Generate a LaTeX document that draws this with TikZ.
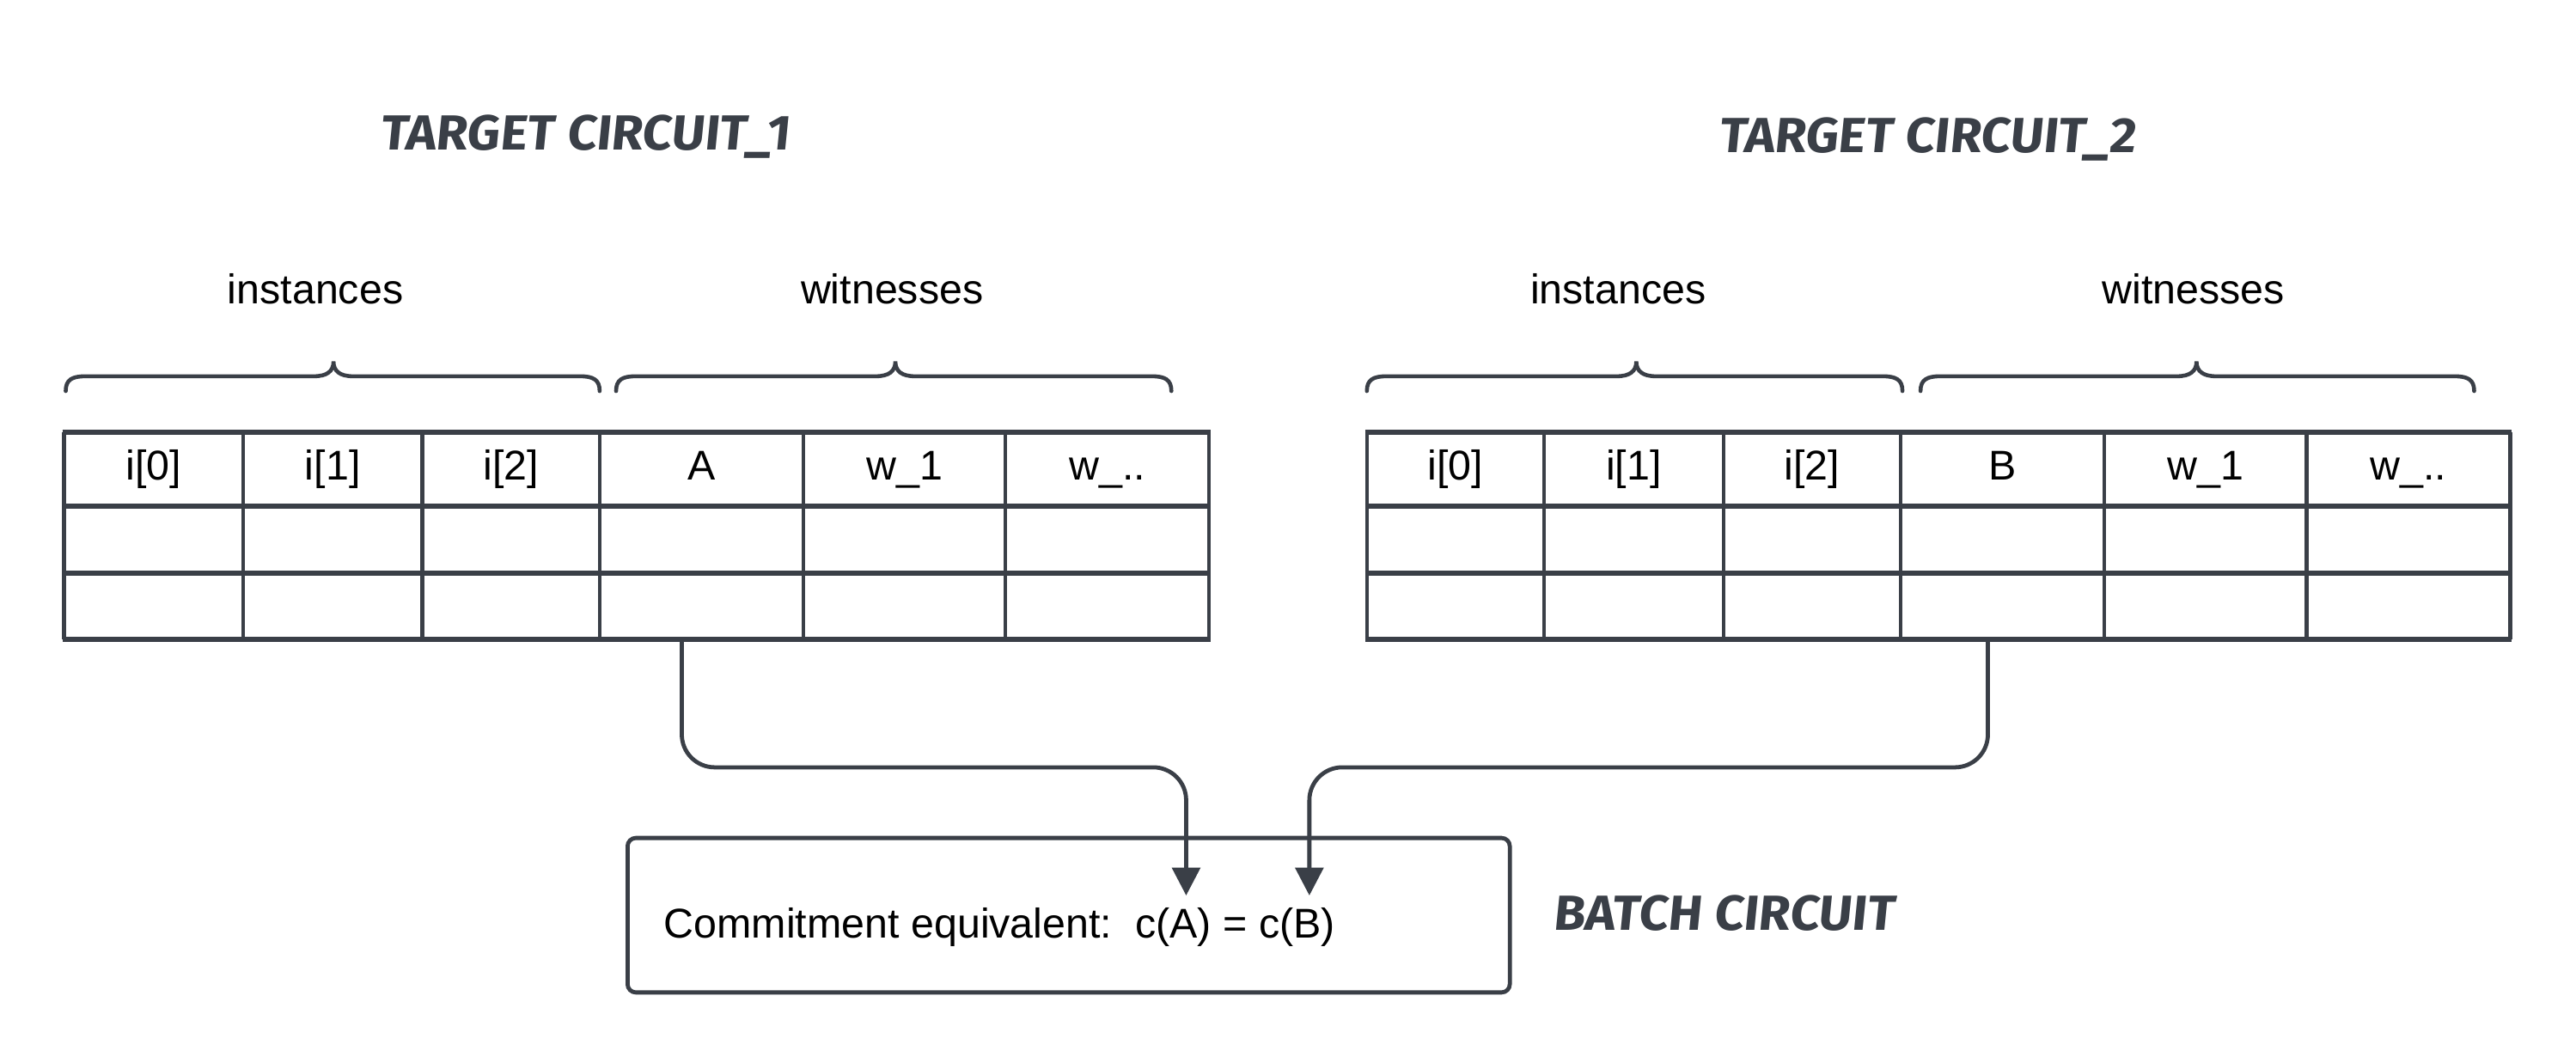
\documentclass[tikz,border=0pt]{standalone}
\usepackage{fontspec}
\setmainfont{Liberation Sans}
\newfontfamily\handfont{Fira Sans}[FakeSlant=0.1,FakeStretch=1.04]
\usetikzlibrary{arrows.meta}
\definecolor{ln}{HTML}{3A3F47}
\begin{document}
\begin{tikzpicture}[x=1pt,y=-1pt,
  hline/.style={draw=ln,line width=3pt},
  vline/.style={draw=ln,line width=2.3pt},
  brace/.style={draw=ln,line width=2.4pt,line cap=round},
  lbl/.style={font=\fontsize{25.3}{28}\selectfont,text=black,inner sep=0pt},
  cell/.style={font=\fontsize{25.3}{28}\selectfont,text=black,inner sep=0pt,anchor=base},
  title/.style={font=\handfont\bfseries\fontsize{30}{34}\selectfont,text=ln,inner sep=0pt},
  conn/.style={draw=ln,line width=2.5pt,rounded corners=20pt,-{Triangle[length=17pt,width=17pt]}},
  box/.style={draw=ln,line width=2.5pt,rounded corners=5pt}]
\useasboundingbox (0,0) rectangle (1568,643.3);
\fill[white] (0,0) rectangle (1568,643.3);

% titles
\node[title] (t1) at (356,83) {TARGET CIRCUIT\_1};
\node[title] (t2) at (1173,85) {TARGET CIRCUIT\_2};
\node[title] (t3) at (1049,556) {BATCH CIRCUIT};

% labels
\node[lbl] (inst1) at (192,176) {instances};
\node[lbl] (wit1) at (543,176) {witnesses};
\node[lbl] (inst2) at (985,176) {instances};
\node[lbl] (wit2) at (1335,176) {witnesses};

% braces
\foreach \a/\m/\b in {40/203/365, 375/545/713, 832/996/1158, 1169/1337/1506}{
  \draw[brace] (\a,238) .. controls (\a,231) and (\a+4,229) .. (\a+12,229)
    -- (\m-12,229) .. controls (\m-4,229) and (\m,226) .. (\m,220)
    .. controls (\m,226) and (\m+4,229) .. (\m+12,229)
    -- (\b-12,229) .. controls (\b-4,229) and (\b,231) .. (\b,238);
}

% table 1
\foreach \x in {39,148,257,365,489,612,736}{\draw[vline] (\x,263) -- (\x,389);}
\foreach \y in {263,308,349,389}{\draw[hline] (38,\y) -- (737,\y);}
% table 2
\foreach \x in {832,940,1049,1157,1281,1404,1528}{\draw[vline] (\x,263) -- (\x,389);}
\foreach \y in {263,308,349,389}{\draw[hline] (831,\y) -- (1529,\y);}

% cell texts
\node[cell] (c10) at (93.5,292) {i[0]};
\node[cell] (c11) at (202.5,292) {i[1]};
\node[cell] (c12) at (311,292) {i[2]};
\node[cell] (c13) at (427,292) {A};
\node[cell] (c14) at (550.5,292) {w\_1};
\node[cell] (c15) at (674,292) {w\_..};
\node[cell] (c20) at (886,292) {i[0]};
\node[cell] (c21) at (994.5,292) {i[1]};
\node[cell] (c22) at (1103,292) {i[2]};
\node[cell] (c23) at (1219,292) {B};
\node[cell] (c24) at (1342.5,292) {w\_1};
\node[cell] (c25) at (1466,292) {w\_..};

% batch box
\node[box,minimum width=537pt,minimum height=94pt,inner sep=0pt] (batch) at (650.5,557) {};
\node[cell,anchor=base west] (btext) at (404,571) {Commitment equivalent:\ \ c(A) = c(B)};

% connectors
\coordinate (sA) at (415,390);
\coordinate (eA) at (722,545);
\coordinate (sB) at (1210,390);
\coordinate (eB) at (797,545);
\draw[conn] (sA) |- (722,467) -- (eA);
\draw[conn] (sB) |- (797,467) -- (eB);
\end{tikzpicture}
\end{document}
